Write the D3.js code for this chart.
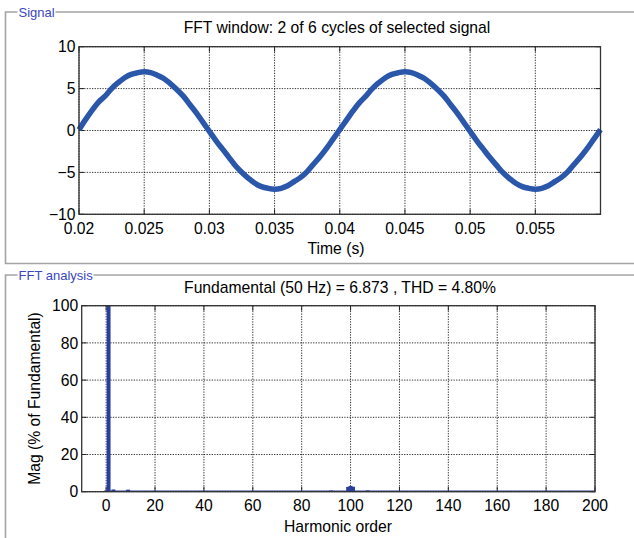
<!DOCTYPE html>
<html><head><meta charset="utf-8">
<script src="https://cdn.jsdelivr.net/npm/d3@7/dist/d3.min.js"></script>
<style>
html,body{margin:0;padding:0;background:#fff;}
svg{display:block;font-family:"Liberation Sans",Arial,sans-serif;}
</style></head><body>
<svg id="c" width="634" height="538"></svg>
<script>
// ---------- data ----------
const signalStart = 0.02;      // s
const signalStep = 0.0005;     // s between readings
const signalValues = [
  0.1, 1.3, 2.4, 3.4, 4.1, 5.0, 5.7, 6.3, 6.7, 6.9, 7.0, 6.9, 6.6, 6.2, 5.6, 4.9, 4.1, 3.1, 2.1, 1.0,
 -0.1,-1.2,-2.2,-3.2,-4.2,-5.0,-5.7,-6.3,-6.7,-6.9,-7.0,-6.9,-6.6,-6.1,-5.6,-4.9,-4.0,-3.1,-2.1,-1.0,
  0.1, 1.2, 2.3, 3.3, 4.1, 5.0, 5.7, 6.3, 6.7, 6.9, 7.0, 6.9, 6.6, 6.2, 5.6, 4.9, 4.1, 3.1, 2.1, 1.0,
 -0.1,-1.2,-2.2,-3.2,-4.1,-5.0,-5.7,-6.3,-6.7,-6.9,-7.0,-6.9,-6.6,-6.1,-5.6,-4.9,-4.0,-3.1,-2.1,-1.0,
  0.1
];
const timeTicks = [0.02, 0.025, 0.03, 0.035, 0.04, 0.045, 0.05, 0.055];
const timeTickLabels = ["0.02","0.025","0.03","0.035","0.04","0.045","0.05","0.055"];
const signalTicks = [-10, -5, 0, 5, 10];
const signalTickLabels = ["\u221210","\u22125","0","5","10"];

const harmonicOrders = [0, 1, 3, 9, 92, 99, 100, 101, 107];
const harmonicMag    = [0.4, 100, 1.2, 1.1, 0.6, 2.6, 3.1, 2.7, 0.7];
const harmonicTicks = [0, 20, 40, 60, 80, 100, 120, 140, 160, 180, 200];
const magTicks = [0, 20, 40, 60, 80, 100];

const titleSignal = "FFT window: 2 of 6 cycles of selected signal";
const titleFFT = "Fundamental (50 Hz) = 6.873 , THD = 4.80%";

// ---------- drawing ----------
const svg = d3.select("#c");
const frameColor = "#a4a4a4";
const labelColor = "#3a47c0";
const FS = 15.7;

function panel(x, y, w, h, label, labelW){
  const g = svg.append("g");
  g.append("path").attr("d", `M${x+w},${y}H${x+13+labelW}M${x+12},${y}H${x}V${y+h}` + (h<300?`H${x+w}`:""))
    .attr("fill","none").attr("stroke",frameColor).attr("stroke-width",1.6);
  g.append("text").attr("x", x+13).attr("y", y+4.5).text(label)
    .attr("font-size",13).attr("fill",labelColor);
}
panel(5.5, 12, 640, 251.5, "Signal", 37);
panel(5.5, 275, 640, 300, "FFT analysis", 75);

function axesBox(x, y, xTicks, yTicks, xLabels, yLabels){
  const [X0,X1] = x.range(), [Y1,Y0] = y.range();
  const g = svg.append("g");
  g.selectAll(".gx").data(xTicks).join("line")
    .attr("x1",d=>x(d)).attr("x2",d=>x(d)).attr("y1",Y0).attr("y2",Y1)
    .attr("stroke","#000").attr("stroke-width",0.8).attr("stroke-dasharray","1.3,1.3");
  g.selectAll(".gy").data(yTicks).join("line")
    .attr("y1",d=>y(d)).attr("y2",d=>y(d)).attr("x1",X0).attr("x2",X1)
    .attr("stroke","#000").attr("stroke-width",0.8).attr("stroke-dasharray","1.3,1.3");
  g.selectAll(".tx").data(xTicks).join("path")
    .attr("d",d=>`M${x(d)},${Y1}v-5M${x(d)},${Y0}v5`).attr("stroke","#222").attr("stroke-width",1);
  g.selectAll(".ty").data(yTicks).join("path")
    .attr("d",d=>`M${X0},${y(d)}h5M${X1},${y(d)}h-5`).attr("stroke","#222").attr("stroke-width",1);
  g.selectAll(".lx").data(xTicks).join("text")
    .attr("x",d=>x(d)).attr("y",Y1+19.5).attr("text-anchor","middle").attr("font-size",FS)
    .text((d,i)=>xLabels[i]);
  g.selectAll(".ly").data(yTicks).join("text")
    .attr("x",X0-3.5).attr("y",d=>y(d)+5.7).attr("text-anchor","end").attr("font-size",FS)
    .text((d,i)=>yLabels[i]);
  return g;
}
function frame(x,y){
  const [X0,X1] = x.range(), [Y1,Y0] = y.range();
  svg.append("rect").attr("x",X0).attr("y",Y0).attr("width",X1-X0).attr("height",Y1-Y0)
    .attr("fill","none").attr("stroke","#333").attr("stroke-width",1.3);
}

// top: signal
const xT = d3.scaleLinear().domain([0.02, 0.06]).range([79, 600.5]);
const yT = d3.scaleLinear().domain([-10, 10]).range([214.3, 46.7]);
axesBox(xT, yT, timeTicks, signalTicks, timeTickLabels, signalTickLabels);
svg.append("path")
  .attr("d", d3.line().x((d,i)=>xT(signalStart + i*signalStep)).y(d=>yT(d)).curve(d3.curveCatmullRom)(signalValues))
  .attr("fill","none").attr("stroke","#2b57aa").attr("stroke-width",5.5).attr("stroke-linejoin","round");
frame(xT,yT);
svg.append("text").attr("x",337).attr("y",32.5).attr("text-anchor","middle").attr("font-size",FS).text(titleSignal);
svg.append("text").attr("x",336).attr("y",253.5).attr("text-anchor","middle").attr("font-size",FS).text("Time (s)");

// bottom: FFT
const xB = d3.scaleLinear().domain([-10, 200]).range([81.7, 595]);
const yB = d3.scaleLinear().domain([0, 100]).range([491.7, 305.7]);
axesBox(xB, yB, harmonicTicks, magTicks, harmonicTicks.map(String), magTicks.map(String));
const bars = harmonicOrders.map((h,i)=>({h, m:harmonicMag[i]}));
svg.append("g").selectAll("rect").data(bars).join("rect")
  .attr("x",d=>xB(d.h-0.8)).attr("width",d=>xB(d.h+0.8)-xB(d.h-0.8))
  .attr("y",d=>yB(d.m)).attr("height",d=>yB(0)-yB(d.m))
  .attr("fill","#2a3f9c");
svg.append("line").attr("x1",xB(-0.8)).attr("x2",595).attr("y1",yB(0)-0.5).attr("y2",yB(0)-0.5)
  .attr("stroke","#2a3f9c").attr("stroke-width",1.5);
frame(xB,yB);
svg.append("text").attr("x",340).attr("y",292.5).attr("text-anchor","middle").attr("font-size",FS).text(titleFFT);
svg.append("text").attr("x",338).attr("y",531.5).attr("text-anchor","middle").attr("font-size",FS).text("Harmonic order");
svg.append("text").attr("transform","translate(40,398.5) rotate(-90)").attr("text-anchor","middle").attr("font-size",FS).text("Mag (% of Fundamental)");
</script>
</body></html>
